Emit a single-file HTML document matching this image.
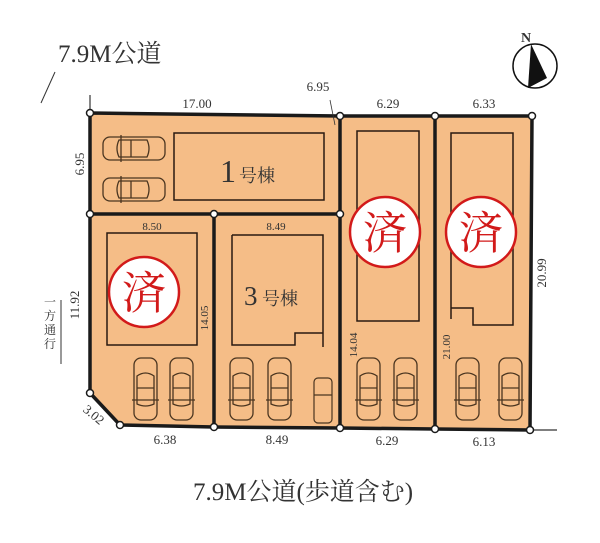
<!DOCTYPE html>
<html><head><meta charset="utf-8"><style>
html,body{margin:0;padding:0;background:#fff;}
svg{display:block;}
text{font-family:"Liberation Serif","Noto Serif CJK SC",serif;fill:#333;}
</style></head><body>
<svg width="600" height="543" viewBox="0 0 600 543" xmlns="http://www.w3.org/2000/svg">
<defs>
<g id="cv" fill="none" stroke="#4a3520" stroke-width="1.3">
<rect x="0" y="0" width="23" height="62" rx="7"/>
<path d="M3 18 Q11.5 12 20 18 L20 46 Q11.5 50 3 46Z"/>
<line x1="3" y1="30" x2="20" y2="30"/>
<line x1="-2" y1="42" x2="25" y2="42"/>
</g>
<g id="ch" fill="none" stroke="#4a3520" stroke-width="1.3">
<rect x="0" y="0" width="62" height="23" rx="7"/>
<path d="M16 3 Q12 11.5 16 20 L44 20 Q48 11.5 44 3Z"/>
<line x1="28" y1="3" x2="28" y2="20"/>
<line x1="18" y1="-2" x2="18" y2="25"/>
</g>
</defs>

<text x="58" y="62" font-size="25">7.9M公道</text>
<line x1="55" y1="72" x2="41" y2="103" stroke="#333" stroke-width="1"/>
<line x1="90" y1="95" x2="90" y2="113" stroke="#333" stroke-width="1.2"/>
<line x1="530" y1="430" x2="557" y2="430" stroke="#333" stroke-width="1.2"/>

<polygon points="90,113 340,116 532,116 530,430 435,429 340,428 214,427 120,425 90,393" fill="#f5bd87" stroke="#1a1a1a" stroke-width="3.5" stroke-linejoin="round"/>
<g stroke="#1a1a1a" stroke-width="3.5" fill="none">
<line x1="90" y1="214" x2="340" y2="214"/>
<line x1="214" y1="214" x2="214" y2="427"/>
<line x1="340" y1="116" x2="340" y2="428"/>
<line x1="435" y1="116" x2="435" y2="429"/>
</g>
<line x1="330" y1="100" x2="335" y2="125" stroke="#333" stroke-width="0.8"/>

<g fill="none" stroke="#2a1a10" stroke-width="1.5">
<rect x="174" y="133" width="150" height="67"/>
<rect x="107" y="233" width="90" height="112"/>
<polyline points="232,235 323,235 323,347"/>
<polyline points="232,235 232,345 295,345 295,333 323,333"/>
<rect x="357" y="131" width="62" height="190"/>
<polyline points="451,319 451,133 513,133 513,325 473,325 473,308 451,308"/>
</g>

<use href="#ch" x="103" y="137"/>
<use href="#ch" x="103" y="178"/>
<use href="#cv" x="134" y="358"/>
<use href="#cv" x="170" y="358"/>
<use href="#cv" x="230" y="358"/>
<use href="#cv" x="268" y="358"/>
<g fill="none" stroke="#4a3520" stroke-width="1.2"><rect x="314" y="378" width="18" height="45" rx="4"/><line x1="314" y1="395" x2="332" y2="395"/></g>
<use href="#cv" x="357" y="358"/>
<use href="#cv" x="394" y="358"/>
<use href="#cv" x="456" y="358"/>
<use href="#cv" x="499" y="358"/>

<text x="220" y="182" font-size="32" fill="#222">1</text><text x="239" y="182" font-size="18" fill="#222">号棟</text>
<text x="244" y="305" font-size="27" fill="#222">3</text><text x="262" y="305" font-size="18" fill="#222">号棟</text>

<g fill="#fff" stroke="#d21a1a" stroke-width="2.5">
<circle cx="144" cy="292" r="35"/>
<circle cx="385" cy="232" r="35"/>
<circle cx="481" cy="232" r="35"/>
</g>
<g font-size="44" text-anchor="middle">
<text x="144" y="308" style="fill:#d21a1a">済</text>
<text x="385" y="248" style="fill:#d21a1a">済</text>
<text x="481" y="248" style="fill:#d21a1a">済</text>
</g>

<g font-size="13" text-anchor="middle">
<text x="197" y="108">17.00</text>
<text x="318" y="91">6.95</text>
<text x="388" y="108">6.29</text>
<text x="484" y="108">6.33</text>
<text x="152" y="230" font-size="11">8.50</text>
<text x="276" y="230" font-size="11">8.49</text>
<text x="165" y="444">6.38</text>
<text x="277" y="444">8.49</text>
<text x="387" y="445">6.29</text>
<text x="484" y="446">6.13</text>
<text transform="translate(84,164) rotate(-90)">6.95</text>
<text transform="translate(79,305) rotate(-90)">11.92</text>
<text transform="translate(208,318) rotate(-90)" font-size="11">14.05</text>
<text transform="translate(357,345) rotate(-90)" font-size="11">14.04</text>
<text transform="translate(450,347) rotate(-90)" font-size="11">21.00</text>
<text transform="translate(546,273) rotate(-90)">20.99</text>
<text transform="translate(91,418) rotate(40)">3.02</text>
</g>

<line x1="61" y1="300" x2="61" y2="364" stroke="#333" stroke-width="1"/>
<g font-size="12" text-anchor="middle"><text x="50" y="306">一</text><text x="50" y="320">方</text><text x="50" y="334">通</text><text x="50" y="348">行</text></g>

<g fill="#fff" stroke="#1a1a1a" stroke-width="1.5">
<circle cx="90" cy="113" r="3.5"/><circle cx="340" cy="116" r="3.5"/><circle cx="435" cy="116" r="3.5"/><circle cx="532" cy="116" r="3.5"/>
<circle cx="90" cy="214" r="3.5"/><circle cx="214" cy="214" r="3.5"/><circle cx="340" cy="214" r="3.5"/>
<circle cx="90" cy="393" r="3.5"/><circle cx="120" cy="425" r="3.5"/><circle cx="214" cy="427" r="3.5"/><circle cx="340" cy="428" r="3.5"/><circle cx="435" cy="429" r="3.5"/><circle cx="530" cy="430" r="3.5"/>
</g>

<circle cx="535" cy="66" r="22" fill="#fff" stroke="#111" stroke-width="1.5"/>
<polygon points="531,44 528,88 547,78" fill="#111"/>
<text x="521" y="42" font-size="14" font-weight="bold" fill="#111" font-family="Liberation Sans,sans-serif">N</text>

<text x="193" y="500" font-size="25">7.9M公道(歩道含む)</text>
</svg>
</body></html>
